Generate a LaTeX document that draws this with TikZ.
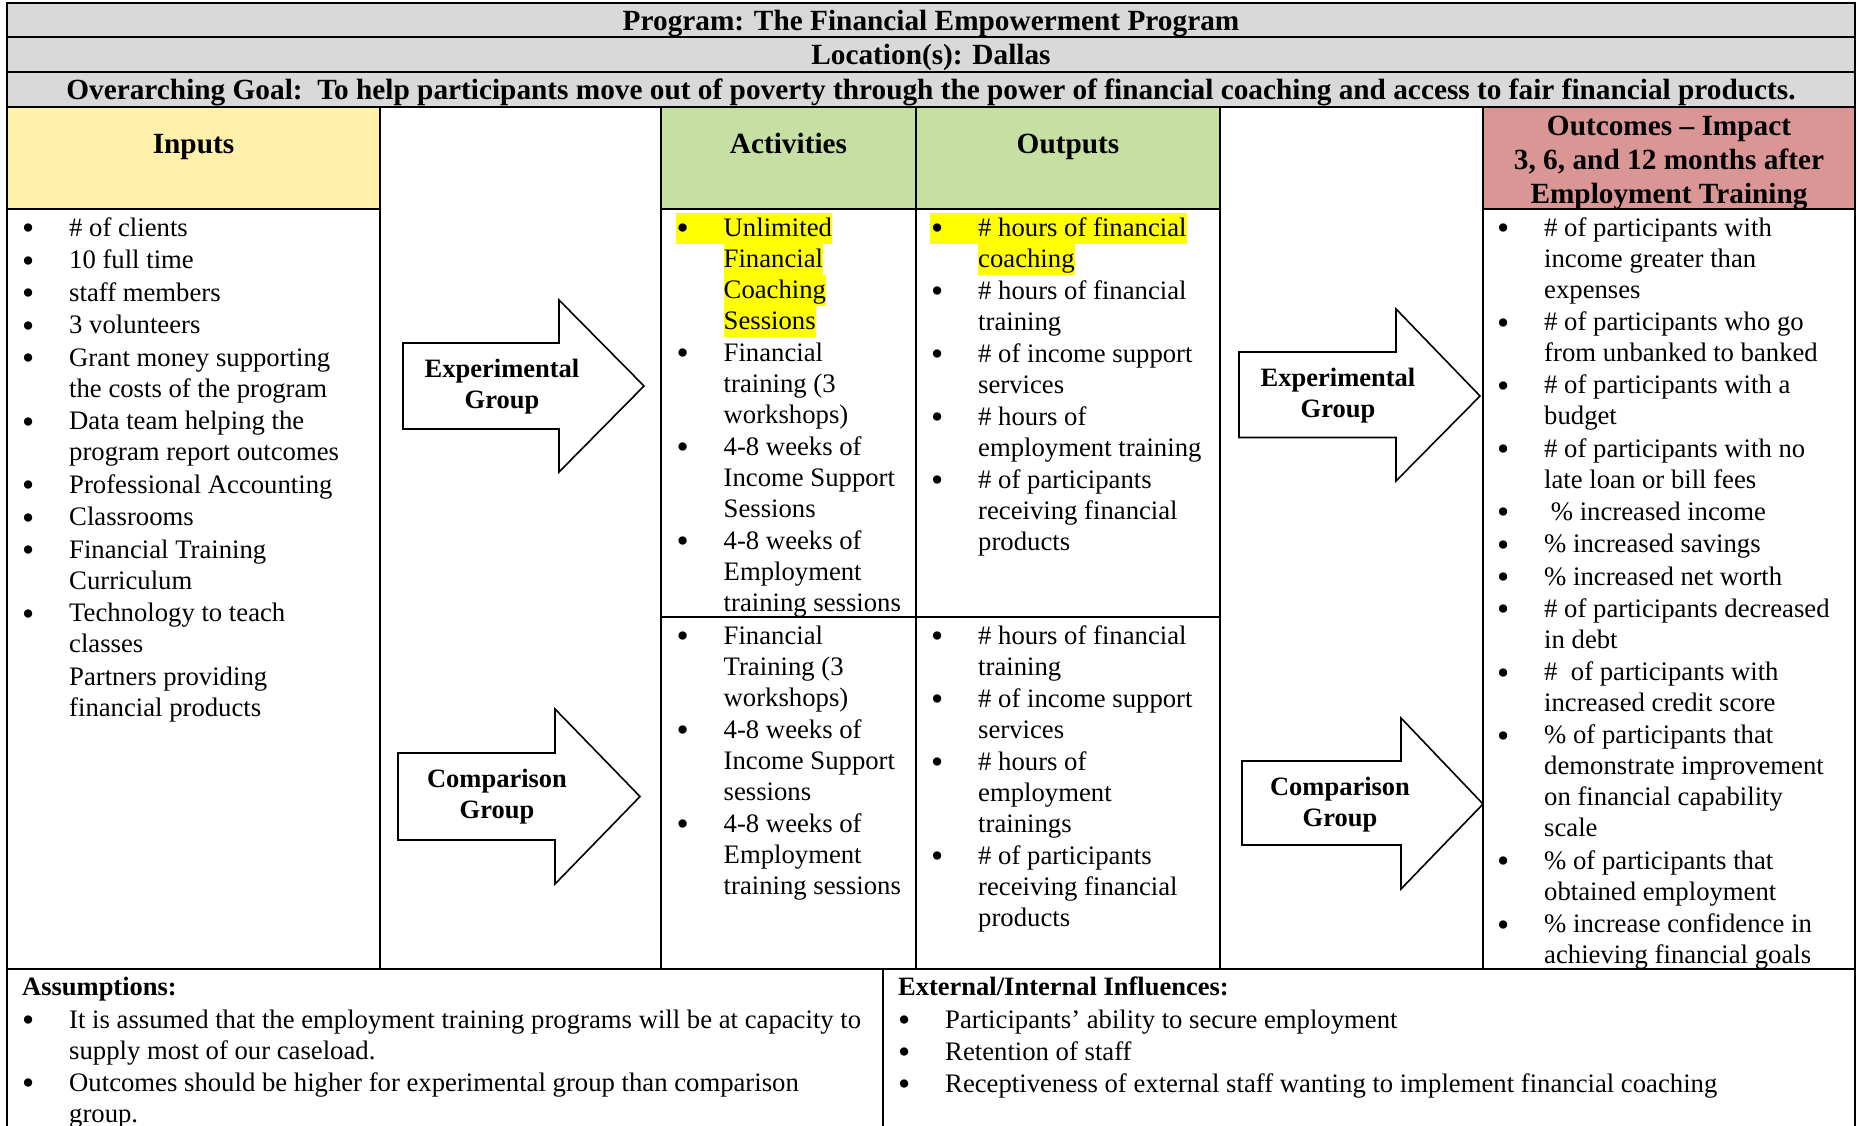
\documentclass[tikz,border=0pt]{standalone}
\usepackage{graphicx}
\usepackage{fontspec}
\setmainfont{Liberation Serif}
\definecolor{hdrgray}{RGB}{217,217,217}
\definecolor{inyel}{RGB}{255,240,170}
\definecolor{actgrn}{RGB}{198,224,164}
\definecolor{outred}{RGB}{218,150,148}
\definecolor{hly}{RGB}{255,255,0}
\newcommand\fl{\rule{0pt}{23pt}}
\newcommand\bigbul{\raisebox{-3.5pt}{\scalebox{1.3}{\textbullet}}}
\newcommand\bu{\leavevmode\llap{\bigbul\hspace{35pt}}}
\newcommand\hbu{\leavevmode\llap{{\setlength\fboxsep{0pt}\colorbox{hly}{\rule[-8pt]{0pt}{31pt}\hspace{1pt}\bigbul\hspace{35pt}}}}}
\newcommand\hl[1]{{\setlength\fboxsep{0pt}\colorbox{hly}{\rule[-8pt]{0pt}{31pt}#1}}}
\begin{document}
\begin{tikzpicture}[x=1pt,y={(0pt,-1pt)},
  grid/.style={line width=2.6pt,line cap=rect},
  body/.style={font=\fontsize{26.7}{31}\selectfont,align=left,inner sep=0pt,anchor=north west},
  hdr/.style={font=\bfseries\fontsize{29.3}{34}\selectfont,align=center,inner sep=0pt,anchor=base},
  sub/.style={font=\bfseries\fontsize{26.5}{31}\selectfont,inner sep=0pt,anchor=base west},
  arrowshape/.style={draw,line width=1.6pt,fill=white,line join=miter},
  albl/.style={font=\bfseries\fontsize{26.5}{31}\selectfont,align=center,inner sep=0pt,anchor=north}]
\useasboundingbox (0,0) rectangle (1860,1126);
% fills
\fill[white] (0,0) rectangle (1860,1126);
\fill[hdrgray] (7,3) rectangle (1855,107);
\fill[inyel] (7,107) rectangle (380,209);
\fill[actgrn] (661,107) rectangle (1220,209);
\fill[outred] (1483,107) rectangle (1855,209);
% grid
\draw[grid] (7,1126) -- (7,3) -- (1855,3) -- (1855,1126);
\draw[grid] (7,37) -- (1855,37) (7,72) -- (1855,72) (7,107) -- (1855,107);
\draw[grid] (7,209) -- (380,209) (661,209) -- (1220,209) (1483,209) -- (1855,209);
\draw[grid] (380,107) -- (380,969) (661,107) -- (661,969) (916,107) -- (916,969)
  (1220,107) -- (1220,969) (1483,107) -- (1483,969);
\draw[grid] (661,617) -- (1220,617);
\draw[grid] (7,969) -- (1855,969);
\draw[grid] (883,969) -- (883,1126);
% title rows
\node[hdr] (title) at (931,30.2) {Program: The Financial Empowerment Program};
\node[hdr] (loc) at (931,64.7) {Location(s): Dallas};
\node[hdr] (goal) at (931,99.7) {Overarching Goal:\ \ To help participants move out of poverty through the power of financial coaching and access to fair financial products.};
% column headers
\node[hdr] (hin) at (193.5,153.4) {Inputs};
\node[hdr] (hact) at (788.5,153.4) {Activities};
\node[hdr] (hout) at (1068,153.4) {Outputs};
\node[hdr,anchor=north] (hoc) at (1669,110) {\rule{0pt}{25pt}Outcomes -- Impact\\3, 6, and 12 months after\\Employment Training};
% arrows
\draw[arrowshape] (403,343) -- (559,343) -- (559,300) -- (644,386) -- (559,472) -- (559,429) -- (403,429) -- cycle;
\draw[arrowshape] (398,753) -- (555,753) -- (555,709) -- (640,796.5) -- (555,884) -- (555,840) -- (398,840) -- cycle;
\draw[arrowshape] (1239,352) -- (1396,352) -- (1396,309) -- (1480,396) -- (1396,481) -- (1396,437.5) -- (1239,437.5) -- cycle;
\draw[arrowshape] (1242,761) -- (1401,761) -- (1401,718) -- (1483,804) -- (1401,889) -- (1401,845) -- (1242,845) -- cycle;
\node[albl] (expL) at (502,355) {\rule{0pt}{22pt}Experimental\\Group};
\node[albl] (cmpL) at (497,765) {\rule{0pt}{22pt}Comparison\\Group};
\node[albl] (expR) at (1338,364) {\rule{0pt}{22pt}Experimental\\Group};
\node[albl] (cmpR) at (1340,773) {\rule{0pt}{22pt}Comparison\\Group};
% inputs
\node[body] (inputs) at (69,213) {\fl\bu\# of clients\\[1.5pt]
\bu 10 full time\\[1.5pt]
\bu staff members\\[1.5pt]
\bu 3 volunteers\\[1.5pt]
\bu Grant money supporting\\the costs of the program\\[1.5pt]
\bu Data team helping the\\program report outcomes\\[1.5pt]
\bu Professional Accounting\\[1.5pt]
\bu Classrooms\\[1.5pt]
\bu Financial Training\\Curriculum\\[1.5pt]
\bu Technology to teach\\classes\\[1.5pt]
Partners providing\\financial products};
% activities upper
\node[body] (actA) at (723.5,213) {\fl\hbu\hl{Unlimited}\\\hl{Financial}\\\hl{Coaching}\\\hl{Sessions}\\[1pt]
\bu Financial\\training (3\\workshops)\\[1pt]
\bu 4-8 weeks of\\Income Support\\Sessions\\[1pt]
\bu 4-8 weeks of\\Employment\\training sessions};
% outputs upper
\node[body] (outA) at (978,213) {\fl\hbu\hl{\# hours of financial}\\\hl{coaching}\\[1pt]
\bu\# hours of financial\\training\\[1pt]
\bu\# of income support\\services\\[1pt]
\bu\# hours of\\employment training\\[1pt]
\bu\# of participants\\receiving financial\\products};
% activities lower
\node[body] (actB) at (723.5,621) {\fl\bu Financial\\Training (3\\workshops)\\[1pt]
\bu 4-8 weeks of\\Income Support\\sessions\\[1pt]
\bu 4-8 weeks of\\Employment\\training sessions};
% outputs lower
\node[body] (outB) at (978,621) {\fl\bu\# hours of financial\\training\\[1pt]
\bu\# of income support\\services\\[1pt]
\bu\# hours of\\employment\\trainings\\[1pt]
\bu\# of participants\\receiving financial\\products};
% outcomes
\node[body] (outc) at (1544,213) {\fl\bu\# of participants with\\income greater than\\expenses\\[1.3pt]
\bu\# of participants who go\\from unbanked to banked\\[1.3pt]
\bu\# of participants with a\\budget\\[1.3pt]
\bu\# of participants with no\\late loan or bill fees\\[1.3pt]
\bu\ \%~increased income\\[1.3pt]
\bu\%~increased savings\\[1.3pt]
\bu\%~increased net worth\\[1.3pt]
\bu\# of participants decreased\\in debt\\[1.3pt]
\bu\#\ \ of participants with\\increased credit score\\[1.3pt]
\bu\% of participants that\\demonstrate improvement\\on financial capability\\scale\\[1.3pt]
\bu\% of participants that\\obtained employment\\[1.3pt]
\bu\% increase confidence in\\achieving financial goals};
% bottom
\node[sub] (assh) at (22,995) {Assumptions:};
\node[body] (ass) at (69,1005) {\fl\bu It is assumed that the employment training programs will be at capacity to\\supply most of our caseload.\\[1pt]
\bu Outcomes should be higher for experimental group than comparison\\group.};
\node[sub] (exth) at (898,995) {External/Internal Influences:};
\node[body] (ext) at (945,1005) {\fl\bu Participants’ ability to secure employment\\[1pt]
\bu Retention of staff\\[1pt]
\bu Receptiveness of external staff wanting to implement financial coaching};
\end{tikzpicture}
\end{document}
